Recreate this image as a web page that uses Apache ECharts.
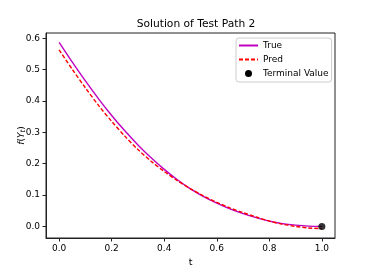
<!DOCTYPE html>
<html>
<head>
<meta charset="utf-8">
<script src="https://cdn.jsdelivr.net/npm/echarts@6/dist/echarts.min.js"></script>
<style>
html,body{margin:0;padding:0;background:#fff;}
#chart{width:374px;height:273px;}
</style>
</head>
<body>
<div id="chart"></div>
<script>
var tValues = [0, 0.05, 0.1, 0.15, 0.2, 0.25, 0.3, 0.35, 0.4, 0.45, 0.5, 0.55, 0.6, 0.65, 0.7, 0.75, 0.8, 0.85, 0.9, 0.95, 1.0];
var trueValues = [0.587, 0.524, 0.464, 0.407, 0.354, 0.305, 0.260, 0.219, 0.182, 0.149, 0.120, 0.095, 0.074, 0.056, 0.041, 0.028, 0.017, 0.009, 0.004, 0.001, 0.000];
var predValues = [0.563, 0.501, 0.442, 0.386, 0.335, 0.288, 0.245, 0.208, 0.175, 0.146, 0.120, 0.097, 0.077, 0.059, 0.044, 0.030, 0.017, 0.007, 0.000, -0.005, -0.007];
var terminalT = [1.0];
var terminalValues = [0.0];
var xTicks = [0, 0.2, 0.4, 0.6, 0.8, 1.0];
var yTicks = [0, 0.1, 0.2, 0.3, 0.4, 0.5, 0.6];

function pairs(xs, ys) { return xs.map(function (x, i) { return [x, ys[i]]; }); }

var font = 'DejaVu Sans';
var chart = echarts.init(document.getElementById('chart'), null, {renderer: 'canvas'});
chart.setOption({
  animation: false,
  backgroundColor: '#fff',
  textStyle: {fontFamily: font},
  title: {
    text: 'Solution of Test Path 2',
    left: 191, top: 14, textAlign: 'center',
    textStyle: {fontFamily: font, fontSize: 10.7, fontWeight: 'normal', color: '#000'}
  },
  grid: {left: 46, right: 39, top: 33, bottom: 35, show: true, borderColor: '#222', borderWidth: 1, backgroundColor: 'transparent'},
  legend: {
    orient: 'vertical',
    left: 236, top: 38,
    itemWidth: 19, itemHeight: 7, itemGap: 5,
    padding: [3, 3, 4, 2],
    backgroundColor: '#fff',
    borderColor: '#ccc', borderWidth: 1, borderRadius: 3,
    textStyle: {fontFamily: font, fontSize: 9, color: '#000'},
    itemStyle: {opacity: 0},
    data: [
      {name: 'True'},
      {name: 'Pred'},
      {name: 'Terminal Value', icon: 'circle', itemStyle: {opacity: 1, color: '#000'}}
    ]
  },
  xAxis: {
    type: 'value', min: -0.05, max: 1.05,
    name: 't', nameLocation: 'middle', nameGap: 18,
    nameTextStyle: {fontFamily: font, fontSize: 9.5, color: '#000'},
    axisLine: {show: true, onZero: false, lineStyle: {color: '#222', width: 1}},
    axisTick: {show: true, inside: false, length: 3.5, lineStyle: {color: '#222'}, customValues: xTicks},
    axisLabel: {margin: 6, fontFamily: font, fontSize: 9, color: '#000', customValues: xTicks,
      formatter: function (v) { return v.toFixed(1); }},
    splitLine: {show: false}
  },
  yAxis: {
    type: 'value', min: -0.037, max: 0.617,
    name: '{i|f}({i|Y}{s|t})', nameLocation: 'middle', nameGap: 19, nameRotate: 90,
    nameMoveOverlap: false,
    nameTextStyle: {fontFamily: font, fontSize: 9, color: '#000',
      rich: {
        i: {fontFamily: font, fontSize: 9, fontStyle: 'italic', color: '#000'},
        s: {fontFamily: font, fontSize: 7, fontStyle: 'italic', color: '#000', verticalAlign: 'bottom', padding: [3, 0, 0, 0]}
      }},
    axisLine: {show: true, onZero: false, lineStyle: {color: '#222', width: 1}},
    axisTick: {show: true, inside: false, length: 3.5, lineStyle: {color: '#222'}, customValues: yTicks},
    axisLabel: {margin: 6, fontFamily: font, fontSize: 9, color: '#000', customValues: yTicks,
      formatter: function (v) { return v.toFixed(1); }},
    splitLine: {show: false}
  },
  series: [
    {
      name: 'True', type: 'line', data: pairs(tValues, trueValues),
      symbol: 'none', smooth: 0.3,
      lineStyle: {color: '#bf00bf', width: 1.4},
      itemStyle: {color: '#bf00bf'}, z: 2
    },
    {
      name: 'Pred', type: 'line', data: pairs(tValues, predValues),
      symbol: 'none', smooth: 0.3,
      lineStyle: {color: '#ff0000', width: 1.4, type: [4, 2]},
      itemStyle: {color: '#ff0000'}, z: 3
    },
    {
      name: 'Terminal Value', type: 'scatter', data: pairs(terminalT, terminalValues),
      symbol: 'circle', symbolSize: 7,
      itemStyle: {color: '#000'}, z: 4
    }
  ]
});
</script>
</body>
</html>
